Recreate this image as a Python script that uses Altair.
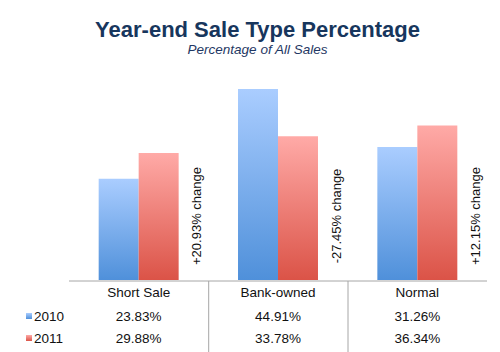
import altair as alt
import pandas as pd

categories = ["Short Sale", "Bank-owned", "Normal"]
years = ["2010", "2011"]
v2010 = [23.83, 44.91, 31.26]
v2011 = [29.88, 33.78, 36.34]
changes = ["+20.93% change", "-27.45% change", "+12.15% change"]

rows = []
for c, a, b, ch in zip(categories, v2010, v2011, changes):
    rows.append({"cat": c, "year": "2010", "value": a, "change": ch})
    rows.append({"cat": c, "year": "2011", "value": b, "change": ch})
df = pd.DataFrame(rows)
df["label"] = df["value"].map(lambda v: f"{v:.2f}%")

FONT = "Liberation Sans"
TFS = 13.5
blue = alt.Gradient(gradient="linear", x1=0, x2=0, y1=0, y2=1,
                    stops=[alt.GradientStop(color="#AACDFF", offset=0),
                           alt.GradientStop(color="#4F90DA", offset=1)])
red = alt.Gradient(gradient="linear", x1=0, x2=0, y1=0, y2=1,
                   stops=[alt.GradientStop(color="#FFAAA7", offset=0),
                          alt.GradientStop(color="#DB5347", offset=1)])

xs = alt.Scale(domain=categories, range=[69, 487], paddingInner=0.426, paddingOuter=0.213)
ys = alt.Scale(domain=[0, 45], range=[280, 280 - 45 * 4.253])
xo = alt.Scale(domain=years, paddingInner=0, paddingOuter=0)

base = alt.Chart(df)
X = alt.X("cat:N", scale=xs, axis=None, sort=categories)

bars = []
for yr, g in zip(years, [blue, red]):
    bars.append(
        base.transform_filter(alt.datum.year == yr).mark_bar(color=g).encode(
            x=X,
            xOffset=alt.XOffset("year:N", scale=xo),
            y=alt.Y("value:Q", scale=ys, axis=None),
        )
    )

change_text = base.transform_filter(alt.datum.year == "2010").mark_text(
    angle=270, align="center", baseline="middle", dy=58.5, font=FONT, fontSize=13, color="#111"
).encode(x=X, y=alt.value(216), text="change:N")

cat_text = base.transform_filter(alt.datum.year == "2010").mark_text(
    font=FONT, fontSize=TFS, color="#111", baseline="middle"
).encode(x=X, y=alt.value(293), text="cat:N")

val2010 = base.transform_filter(alt.datum.year == "2010").mark_text(
    font=FONT, fontSize=TFS, color="#111", baseline="middle"
).encode(x=X, y=alt.value(317), text="label:N")

val2011 = base.transform_filter(alt.datum.year == "2011").mark_text(
    font=FONT, fontSize=TFS, color="#111", baseline="middle"
).encode(x=X, y=alt.value(339), text="label:N")

one = alt.Chart(pd.DataFrame({"k": [0]}))
hline = one.mark_rule(color="#A6A6A6", strokeWidth=1).encode(
    x=alt.value(69), x2=alt.value(487), y=alt.value(281))
vline1 = one.mark_rule(color="#A6A6A6", strokeWidth=1).encode(
    x=alt.value(208.7), y=alt.value(281), y2=alt.value(352))
vline2 = one.mark_rule(color="#A6A6A6", strokeWidth=1).encode(
    x=alt.value(348), y=alt.value(281), y2=alt.value(352))

leg_df = pd.DataFrame({"year": years})
leg_sq = []
for yr, g, yy in zip(years, [blue, red], [316, 338]):
    leg_sq.append(
        alt.Chart(leg_df).transform_filter(alt.datum.year == yr).mark_rect(color=g).encode(
            x=alt.value(26), x2=alt.value(32), y=alt.value(yy - 3), y2=alt.value(yy + 3))
    )
leg_text = []
for yr, yy in zip(years, [317, 339]):
    leg_text.append(
        alt.Chart(leg_df).transform_filter(alt.datum.year == yr).mark_text(
            font=FONT, fontSize=TFS, color="#111", align="left", baseline="middle"
        ).encode(x=alt.value(34), y=alt.value(yy), text="year:N")
    )

title = one.mark_text(font=FONT, fontSize=22, fontWeight="bold", color="#17365D",
                      align="center", baseline="alphabetic", text="Year-end Sale Type Percentage"
                      ).encode(x=alt.value(257.5), y=alt.value(37))
subtitle = one.mark_text(font=FONT, fontSize=13.5, fontStyle="italic", color="#1F3864",
                         align="center", baseline="alphabetic", text="Percentage of All Sales"
                         ).encode(x=alt.value(257.5), y=alt.value(54))

chart = alt.layer(
    *bars, change_text, hline, vline1, vline2, cat_text, val2010, val2011,
    *leg_sq, *leg_text, title, subtitle
).properties(
    width=500, height=352, autosize=alt.AutoSizeParams(type="none"), padding=0,
    background="white"
).configure_view(stroke=None)

chart.save("out.html", embed_options={"renderer": "svg", "actions": False})
